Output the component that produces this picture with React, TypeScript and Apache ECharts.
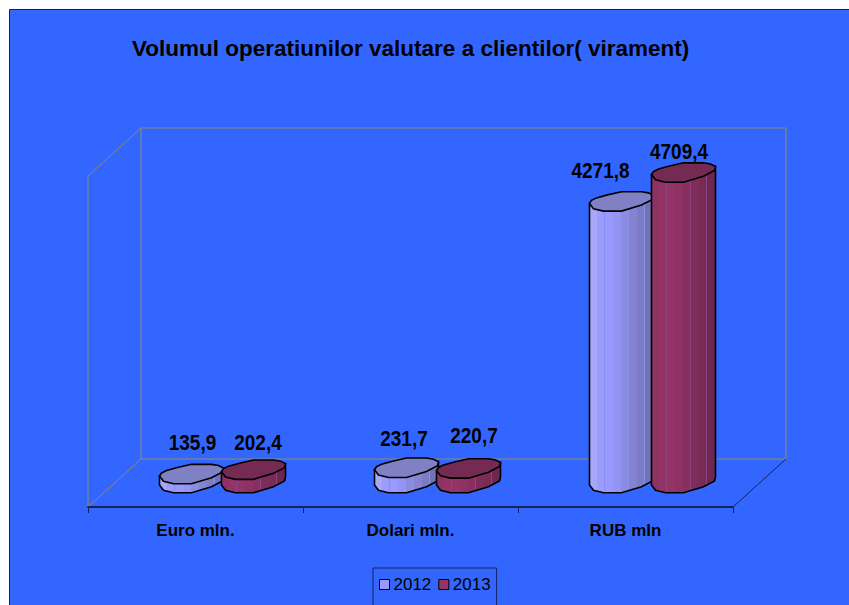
import React, { useEffect, useRef } from "react";
import * as echarts from "echarts";

const categories = ["Euro mln.", "Dolari mln.", "RUB mln"];
const seriesNames = ["2012", "2013"];
const values2012 = [135.9, 231.7, 4271.8];
const values2013 = [202.4, 220.7, 4709.4];
const chartTitle = "Volumul operatiunilor valutare a clientilor( virament)";

const FONT = '"Liberation Sans", Arial, sans-serif';
const DEPTH_SHIFT = 27;
const BAR_SHIFT = 31;

// irregular faceted outline of the cylinders, relative to the centre of the cap
const CAP: number[][] = [
  [-32, 2], [-30, -1], [-25, -3.5], [-14, -6.5], [0, -9.7], [20, -9.7], [27, -8.5], [32, -6],
  [31, -2], [20, 3.7], [0, 9.7], [-18, 9.7], [-28, 7.3],
];
const LOWER: number[][] = [[-32, 2], [-28, 7.3], [-18, 9.7], [0, 9.7], [20, 3.7], [31, -2], [32, -6]];

const labelOffsets = [
  [[1, -32.5], [-2.5, -30], [-21, -31.5]],
  [[4.5, -28], [5.5, -34], [-4.5, -21.5]],
];

const styles = [
  {
    legend: "#9999FF",
    cap: "#8080C4",
    stripe: "#8490F0",
    side: ["#A8A8F8", "#9C9CFF", "#9999FF", "#9494F4", "#8C8CE0", "#8484D2", "#7C7CC4", "#7272B4"],
  },
  {
    legend: "#993366",
    cap: "#752A54",
    stripe: "#8A4480",
    side: ["#8E3264", "#943466", "#933366", "#8E3264", "#87305F", "#7E2D5A", "#772B55", "#6C2850"],
  },
];

const STRIPE_AFTER = [1, 4, 6];

function facetGradient(colors: string[], stripe: string) {
  const stops: { offset: number; color: string }[] = [];
  colors.forEach((color, i) => {
    const from = i / colors.length;
    const to = (i + 1) / colors.length;
    stops.push({ offset: from, color });
    if (STRIPE_AFTER.includes(i)) {
      stops.push({ offset: to - 0.016, color });
      stops.push({ offset: to - 0.016, color: stripe });
      stops.push({ offset: to, color: stripe });
    } else {
      stops.push({ offset: to, color });
    }
  });
  return new echarts.graphic.LinearGradient(0, 0, 1, 0, stops);
}

function makeRenderItem(seriesIndex: number) {
  const dir = seriesIndex === 0 ? -1 : 1;
  const style = styles[seriesIndex];
  return (params: any, api: any) => {
    const cat = api.value(0);
    const val = api.value(1);
    const base = api.coord([cat, 0]);
    const top = api.coord([cat, val]);
    const cx = base[0] + DEPTH_SHIFT + dir * BAR_SHIFT;
    const yTop = top[1];
    const yBase = base[1];
    const side = [
      [cx - 32, yTop + 2],
      ...LOWER.map((p) => [cx + p[0], yBase + p[1]]),
      [cx + 32, yTop - 6],
    ];
    const cap = CAP.map((p) => [cx + p[0], yTop + p[1]]);
    const off = labelOffsets[seriesIndex][params.dataIndex];
    return {
      type: "group",
      children: [
        {
          type: "polygon",
          shape: { points: side },
          style: { fill: facetGradient(style.side, style.stripe), stroke: "#000", lineWidth: 1.6 },
        },
        {
          type: "polygon",
          shape: { points: cap },
          style: { fill: style.cap, stroke: "#000", lineWidth: 1.6 },
        },
        {
          type: "text",
          x: cx + off[0],
          y: yTop + off[1],
          scaleY: 1.2,
          style: {
            text: String(val).replace(".", ","),
            x: 0,
            y: 0,
            align: "center",
            verticalAlign: "middle",
            fontFamily: FONT,
            fontWeight: "bold",
            fontSize: 19,
            fill: "#000",
          },
        },
      ],
    };
  };
}

const FRAME = "#8C8A70";

export default function App() {
  const ref = useRef<HTMLDivElement>(null);
  useEffect(() => {
    const chart = echarts.init(ref.current!, null, { renderer: "svg" });
    const frameLine = (points: number[][], stroke = FRAME, lineWidth = 1) => ({
      type: "polyline",
      z: -5,
      shape: { points },
      style: { fill: "none", stroke, lineWidth },
    });
    chart.setOption({
      animation: false,
      backgroundColor: "#fff",
      title: {
        text: chartTitle,
        left: 132,
        top: 37,
        padding: 0,
        textStyle: { fontFamily: FONT, fontWeight: "bold", fontSize: 22.5, color: "#000" },
      },
      legend: {
        data: seriesNames,
        left: 373,
        top: 568,
        padding: [8, 6, 16, 6],
        itemGap: 7,
        itemWidth: 10,
        itemHeight: 10,
        icon: "rect",
        backgroundColor: "#3366FF",
        borderColor: "#14235E",
        borderWidth: 1,
        selectedMode: false,
        itemStyle: { borderColor: "#000", borderWidth: 1 },
        textStyle: { fontFamily: FONT, fontSize: 17, color: "#000", padding: [0, 0, 0, -1] },
      },
      grid: { left: 88, top: 127, width: 645, height: 356 },
      xAxis: {
        type: "category",
        data: categories,
        offset: 24,
        axisLine: { show: true, onZero: false, lineStyle: { color: "#14235E", width: 2 } },
        axisTick: { show: true, alignWithLabel: false, length: 6, lineStyle: { color: "#14235E", width: 1 } },
        axisLabel: {
          margin: 15,
          fontFamily: FONT,
          fontWeight: "bold",
          fontSize: 17,
          color: "#000",
        },
      },
      yAxis: { type: "value", min: 0, max: 5400, show: false, splitLine: { show: false } },
      graphic: [
        {
          type: "rect",
          z: -10,
          shape: { x: 9.5, y: 9.5, width: 900, height: 700 },
          style: { fill: "#3366FF", stroke: "#222", lineWidth: 1 },
        },
        frameLine([[88, 507], [88, 176], [141, 128], [786, 128], [786, 459], [141, 459], [141, 128]]),
        frameLine([[88, 507], [141, 459]]),
        frameLine([[733, 507], [786, 459]], "#14235E"),
      ],
      series: [values2012, values2013].map((vals, i) => ({
        type: "custom",
        name: seriesNames[i],
        clip: false,
        encode: { x: 0, y: 1 },
        data: vals.map((v, k) => [k, v]),
        itemStyle: { color: styles[i].legend },
        renderItem: makeRenderItem(i),
      })),
    });
    return () => chart.dispose();
  }, []);
  return (
    <div
      ref={ref}
      style={{ position: "absolute", left: 0, top: 0, width: 849, height: 605, overflow: "hidden" }}
    />
  );
}
